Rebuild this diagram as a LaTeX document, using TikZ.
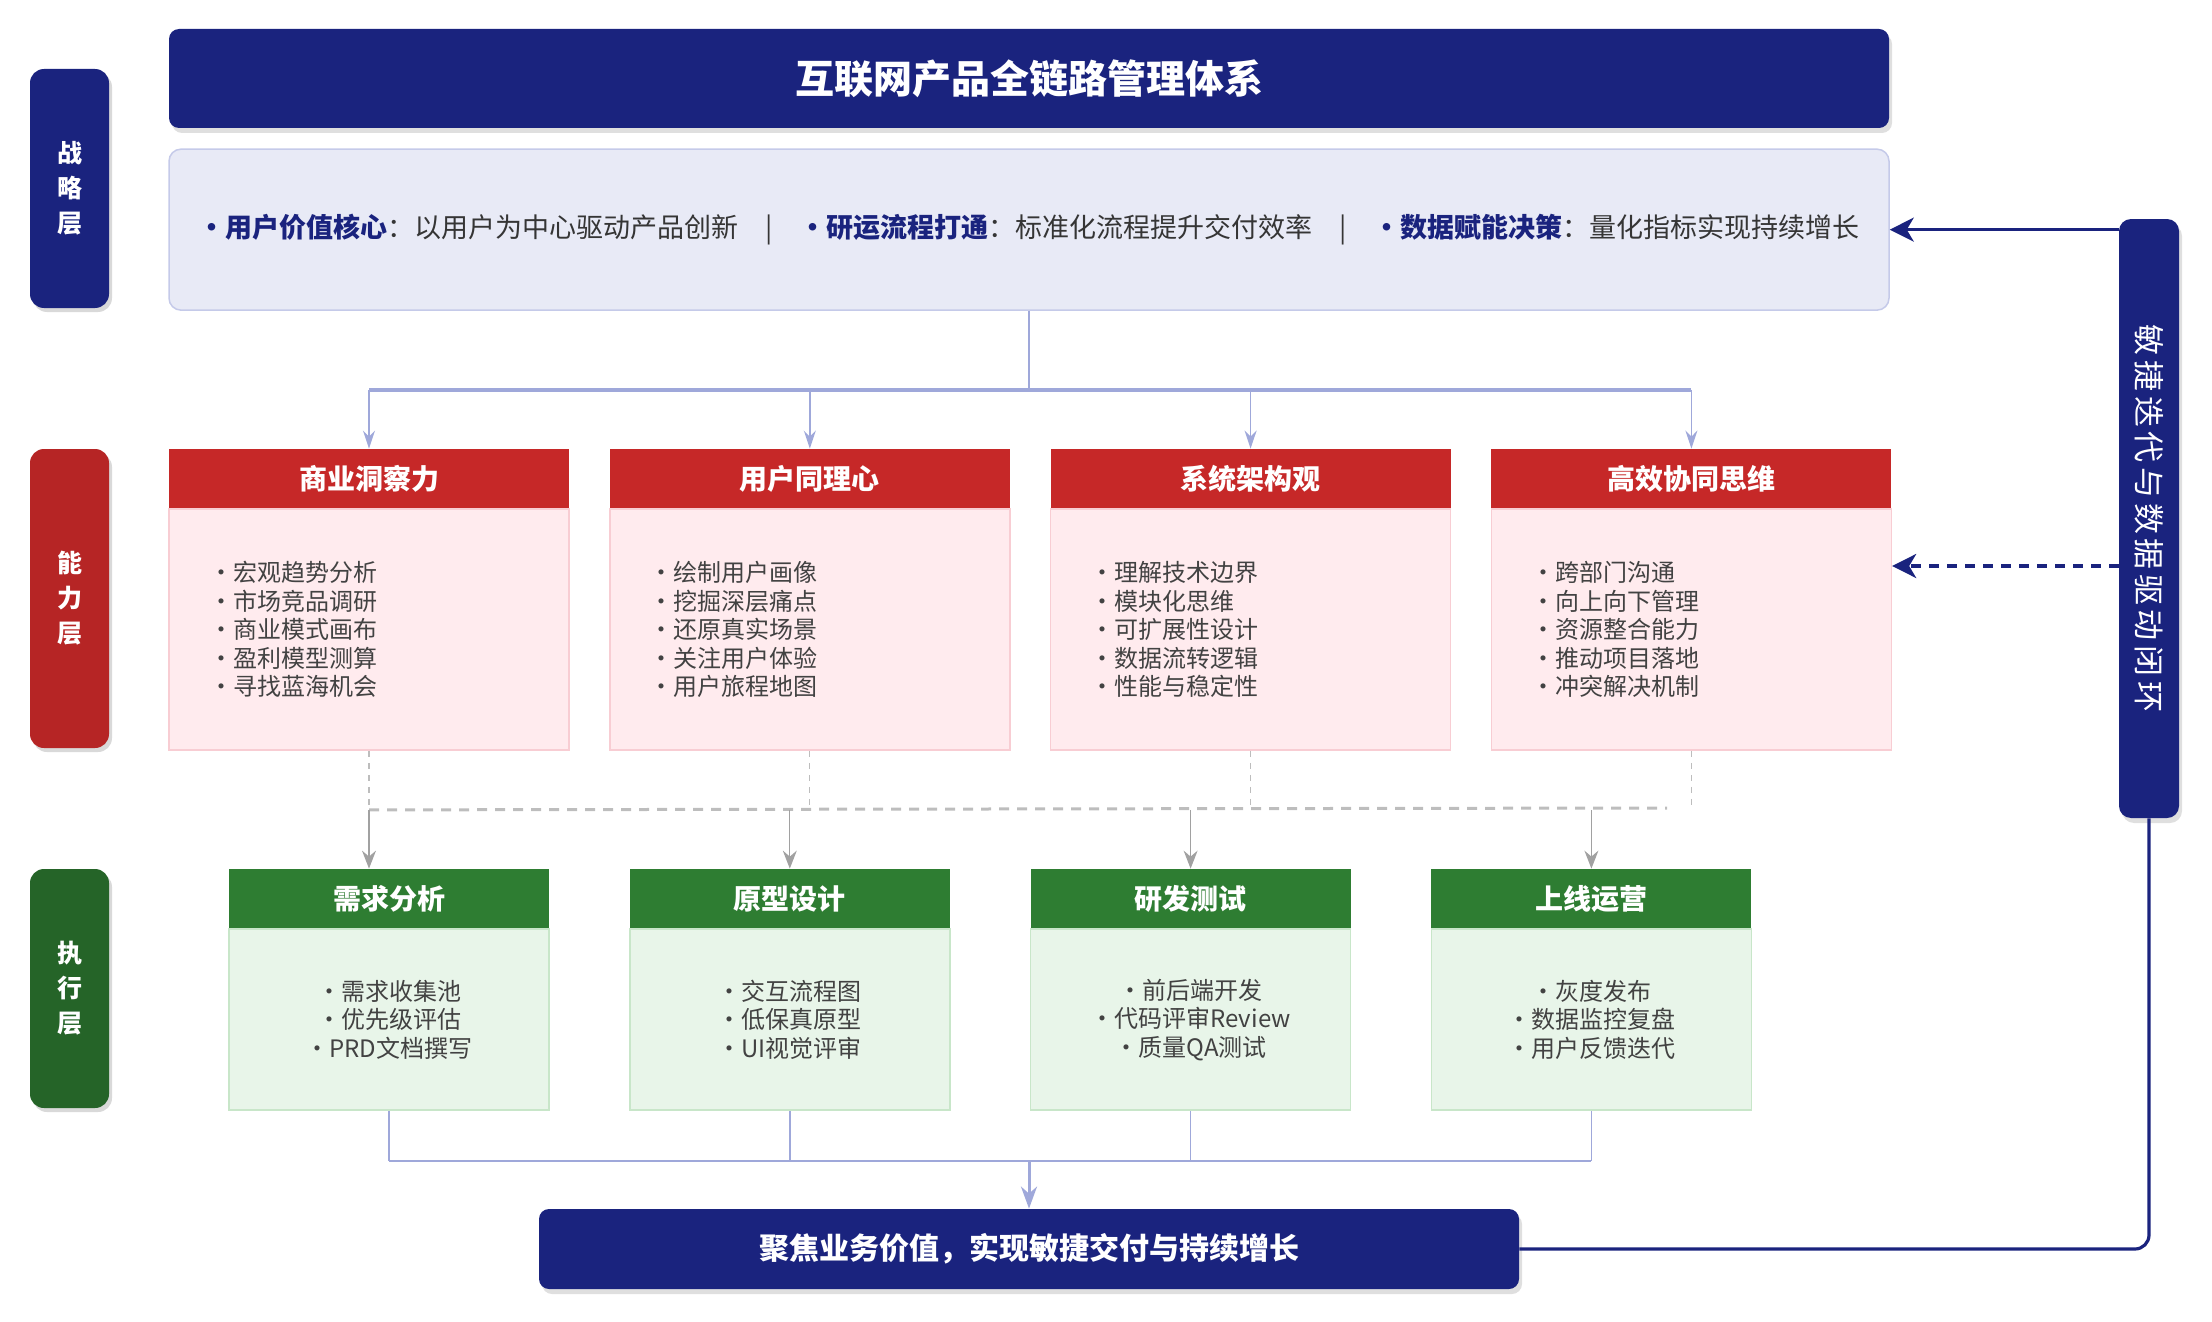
\documentclass[tikz,border=0pt]{standalone}
\usepackage{fontspec}
\setmainfont{Noto Sans CJK SC}
\usetikzlibrary{arrows.meta, positioning, shadows, calc}
\definecolor{navy}{HTML}{1A237E}
\definecolor{capred}{HTML}{C62828}
\definecolor{cappink}{HTML}{FFEBEE}
\definecolor{capline}{HTML}{F8CDD3}
\definecolor{exgreen}{HTML}{2E7D32}
\definecolor{exmint}{HTML}{E8F5E9}
\definecolor{exline}{HTML}{C8E6C9}
\definecolor{lav}{HTML}{9FA8DA}
\definecolor{stratfill}{HTML}{E8EAF6}
\definecolor{stratline}{HTML}{C5CAE9}
\definecolor{txt}{HTML}{424242}
\definecolor{dashgray}{HTML}{BDBDBD}
\tikzset{%
	layer/.style={rectangle, rounded corners=7pt, minimum width=39.5pt, inner sep=0pt,%
		text=white, align=center, font=\bfseries\fontsize{12.5}{17.5}\selectfont,%
		drop shadow={opacity=0.3, shadow xshift=1.5pt, shadow yshift=-2pt}},
	banner/.style={rectangle, rounded corners=5pt, fill=navy, text=white, inner sep=0pt,%
		font=\bfseries\fontsize{19.5}{24}\selectfont,%
		drop shadow={opacity=0.25, shadow xshift=1.5pt, shadow yshift=-2.5pt}},
	stratbox/.style={rectangle, rounded corners=6pt, draw=stratline, line width=0.75pt,%
		fill=stratfill, minimum width=860pt, minimum height=80.5pt, inner sep=0pt,%
		text=txt!80!black, font=\fontsize{13.5}{17}\selectfont},
	caphead/.style={rectangle, fill=capred, text=white, minimum width=200pt,%
		minimum height=29.5pt, inner sep=0pt, font=\bfseries\fontsize{14}{17}\selectfont},
	capbody/.style={rectangle, draw=capline, line width=0.75pt, fill=cappink,%
		minimum width=200pt, minimum height=120.5pt, text width=160pt, inner xsep=20pt,%
		inner ysep=0pt, align=left, text=txt, font=\fontsize{12}{14.25}\selectfont},
	exhead/.style={caphead, fill=exgreen, minimum width=160pt},
	exbody/.style={capbody, draw=exline, fill=exmint, minimum width=160pt,%
		minimum height=90.5pt, text width=160pt, inner xsep=0pt, align=center},
	tree/.style={draw=lav, line width=0.75pt},
	treebar/.style={draw=lav, line width=1.75pt},
	treearrow/.style={tree, -{Stealth[length=9pt, width=6pt, inset=3pt]}},
	goalarrow/.style={draw=lav, line width=1.5pt, -{Stealth[length=11pt, width=8pt, inset=3.5pt]}},
	dashdown/.style={draw=dashgray, line width=0.6pt, dash pattern=on 3pt off 3pt},
	dashbar/.style={draw=dashgray, line width=1.5pt, dash pattern=on 5pt off 4pt},
	grayarrow/.style={draw=dashgray!85!black, line width=0.6pt, -{Stealth[length=9pt, width=7pt, inset=3pt]}},
	loopline/.style={draw=navy, line width=1.6pt},
	looparrow/.style={loopline, -{Stealth[length=12pt, width=12pt, inset=3.5pt]}},
	fbarrow/.style={draw=navy, line width=1.75pt, dash pattern=on 5pt off 4pt,%
		-{Stealth[length=12pt, width=12pt, inset=3.5pt]}}
}
\newcommand{\hl}[1]{{\color{navy}\bfseries •#1}}

\begin{document}
\begin{tikzpicture}[x=0.5pt, y=-0.5pt]
	\useasboundingbox (0,0) rectangle (2212,1322);

	% layer labels
	\node[layer, fill=navy, minimum height=119.5pt] (lstrat) at (69.5,188.5) {战\\略\\层};
	\node[layer, fill=capred!92!black, minimum height=149.5pt] (lcap) at (69.5,598.5) {能\\力\\层};
	\node[layer, fill=exgreen!80!black, minimum height=119.5pt] (lexec) at (69.5,988.5) {执\\行\\层};

	% strategy
	\node[banner, minimum width=860pt, minimum height=49.5pt] (title) at (1029,78.5) {互联网产品全链路管理体系};
	\node[stratbox, below=10pt of title] (strat) {\hl{用户价值核心}：以用户为中心驱动产品创新\quad|\quad\hl{研运流程打通}：标准化流程提升交付效率\quad|\quad\hl{数据赋能决策}：量化指标实现持续增长};

	% capability
	\node[caphead] (hcap1) at (369,478.5) {商业洞察力};
	\node[caphead, right=20pt of hcap1] (hcap2) {用户同理心};
	\node[caphead, right=20pt of hcap2] (hcap3) {系统架构观};
	\node[caphead, right=20pt of hcap3] (hcap4) {高效协同思维};
	\node[capbody, below=0pt of hcap1] (bcap1) {•宏观趋势分析\\•市场竞品调研\\•商业模式画布\\•盈利模型测算\\•寻找蓝海机会};
	\node[capbody, below=0pt of hcap2] (bcap2) {•绘制用户画像\\•挖掘深层痛点\\•还原真实场景\\•关注用户体验\\•用户旅程地图};
	\node[capbody, below=0pt of hcap3] (bcap3) {•理解技术边界\\•模块化思维\\•可扩展性设计\\•数据流转逻辑\\•性能与稳定性};
	\node[capbody, below=0pt of hcap4] (bcap4) {•跨部门沟通\\•向上向下管理\\•资源整合能力\\•推动项目落地\\•冲突解决机制};

	% execution
	\node[exhead] (hex1) at (389,898.5) {需求分析};
	\node[exhead, right=40pt of hex1] (hex2) {原型设计};
	\node[exhead, right=40pt of hex2] (hex3) {研发测试};
	\node[exhead, right=40pt of hex3] (hex4) {上线运营};
	\node[exbody, below=0pt of hex1] (bex1) {•需求收集池\\•优先级评估\\•PRD文档撰写};
	\node[exbody, below=0pt of hex2] (bex2) {•交互流程图\\•低保真原型\\•UI视觉评审};
	\node[exbody, below=0pt of hex3] (bex3) {•前后端开发\\•代码评审Review\\•质量QA测试};
	\node[exbody, below=0pt of hex4] (bex4) {•灰度发布\\•数据监控复盘\\•用户反馈迭代};

	% goal and loop
	\node[banner, minimum width=490pt, minimum height=40pt, font=\bfseries\fontsize{15}{18}\selectfont] (goal) at (1029,1249) {聚焦业务价值，实现敏捷交付与持续增长};
	\node[banner, rounded corners=6pt, minimum width=30pt, minimum height=299.5pt,%
		font=\fontsize{15.5}{18}\selectfont\addfontfeature{LetterSpace=15}] (loop) at (2149,518.5) {\rotatebox{-90}{敏捷迭代与数据驱动闭环}};

	% strategy -> capability
	\coordinate (split) at ($(strat.south)+(0,79)$);
	\draw[tree, line width=1pt] (strat.south) -- (split);
	\draw[treebar] (hcap1.north |- split) -- (hcap4.north |- split);
	\foreach \n in {1,...,4}
		\draw[treearrow] (hcap\n.north |- split) -- (hcap\n.north);

	% capability -> execution
	\coordinate (gate) at ($(bcap1.south)+(0,59)$);
	\coordinate (gateend) at (1667,808);
	\foreach \n in {1,...,4}
		\draw[dashdown] (bcap\n.south) -- (bcap\n.south |- gate);
	\draw[dashbar] (gate) -- (gateend);
	\draw[grayarrow] (gate) -- (gate |- hex1.north);
	\foreach \n in {2,3,4}
		\draw[grayarrow] (hex\n.north |- gate) -- (hex\n.north);

	% execution -> goal
	\coordinate (merge) at ($(bex1.south)+(0,50)$);
	\foreach \n in {1,...,4}
		\draw[tree] (bex\n.south) -- (bex\n.south |- merge);
	\draw[tree, line width=1.25pt] (bex1.south |- merge) -- (bex4.south |- merge);
	\draw[goalarrow] (goal.north |- merge) -- (goal.north);

	% feedback loop
	\draw[loopline, rounded corners=7pt] (goal.east) -| (loop.south);
	\draw[looparrow] (loop.west |- strat.east) -- (strat.east);
	\coordinate (fb) at ($(loop.west)+(0,47.5)$);
	\draw[fbarrow] (fb) -- (fb -| bcap4.east);
\end{tikzpicture}
\end{document}
